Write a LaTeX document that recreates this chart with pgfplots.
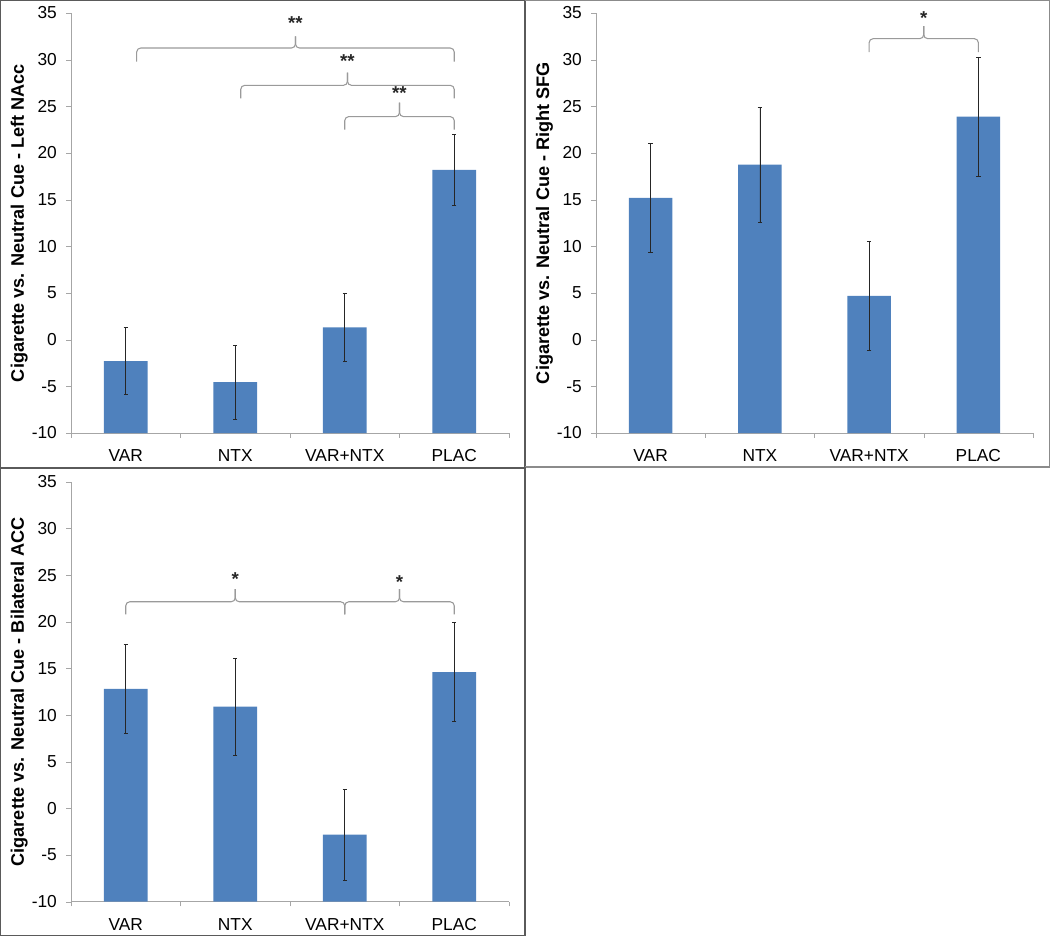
\documentclass[border=0pt]{standalone}
\usepackage{pgfplots}
\pgfplotsset{compat=1.18}
\usepackage{fontspec}
\setmainfont{Liberation Sans}
\definecolor{barblue}{HTML}{4F81BD}
\definecolor{axgray}{HTML}{A6A6A6}
\definecolor{brgray}{HTML}{9A9A9A}
\definecolor{framegray}{HTML}{5A5A5A}

% x1, x2, xm, yend, yline, ytip
\newcommand{\brk}[6]{%
  \draw[brgray, line width=0.8pt, rounded corners=3pt] (axis cs:#1,#4) -- (axis cs:#1,#5) -- (axis cs:#3,#5) -- (axis cs:#3,#6);
  \draw[brgray, line width=0.8pt, rounded corners=3pt] (axis cs:#2,#4) -- (axis cs:#2,#5) -- (axis cs:#3,#5) -- (axis cs:#3,#6);
}
\newcommand{\sig}[3]{\node[inner sep=0pt, text=black!85, font=\bfseries\fontsize{14}{16}\selectfont] at (axis cs:#1,#2) {#3};}

\pgfplotsset{
  myaxis/.style={
    scale only axis, width=328.5pt, height=315pt,
    xmin=-0.5, xmax=3.5, ymin=-10, ymax=35,
    axis lines=left, axis line style={axgray, -},
    y coord trafo/.code={\pgfmathparse{##1+10}},
    y coord inv trafo/.code={\pgfmathparse{##1-10}},
    ytick={-10,-5,...,35},
    xtick={0,1,2,3}, xticklabels={VAR,NTX,VAR+NTX,PLAC},
    xtick style={draw=none},
    ytick style={axgray},
    tick align=outside, major tick length=3.4pt,
    extra x ticks={-0.5,0.5,1.5,2.5,3.5}, extra x tick labels={},
    extra x tick style={xtick style={draw=axgray}},
    tick label style={font=\fontsize{13}{15}\selectfont, black},
    /pgf/number format/assume math mode=true,
    yticklabel style={inner sep=0pt, xshift=-7pt},
    xticklabel style={inner sep=0pt, yshift=-9pt},
    every axis y label/.style={at={(axis description cs:-0.118,0.5)}, rotate=90, anchor=center,
      font=\bfseries\fontsize{13.6}{16}\selectfont},
    clip=false,
    ybar, bar width=0.4,
  },
  mybars/.style={fill=barblue, draw=none,
    error bars/.cd, y dir=both, y explicit,
    error bar style={black!85, line width=0.45pt},
    error mark options={black!85, line width=0.45pt, mark size=1.6pt, rotate=90}},
}

\begin{document}
\begin{tikzpicture}
\useasboundingbox (0,0) rectangle (787.5pt,-702pt);
\draw[framegray, line width=0.8pt] (0.4pt,-0.4pt) rectangle (393.75pt,-351pt);
\draw[framegray!70, line width=0.8pt] (393.75pt,-0.4pt) -- (787.1pt,-0.4pt) -- (787.1pt,-350.25pt) -- (393.75pt,-350.25pt);
\draw[framegray, line width=0.8pt] (0.4pt,-351pt) rectangle (393.75pt,-701.6pt);

% Panel 1
\begin{axis}[myaxis, at={(53.25pt,-324.75pt)}, anchor=south west,
  ylabel={Cigarette vs. Neutral Cue - Left NAcc}]
\addplot[mybars] coordinates {(0,-2.3) +- (0,3.6) (1,-4.55) +- (0,3.95) (2,1.33) +- (0,3.68) (3,18.2) +- (0,3.8)};
\brk{0.1}{3}{1.55}{29.8}{31.25}{32.5}
\brk{1.05}{3}{2.025}{25.85}{27.25}{28.6}
\brk{2.0}{3}{2.5}{22.5}{23.9}{25.4}
\sig{1.55}{33.9}{**}
\sig{2.025}{29.9}{**}
\sig{2.5}{26.4}{**}
\end{axis}

% Panel 2
\begin{axis}[myaxis, at={(447pt,-324.75pt)}, anchor=south west, width=327.75pt,
  ylabel={Cigarette vs. Neutral Cue - Right SFG}]
\addplot[mybars] coordinates {(0,15.2) +- (0,5.8) (1,18.75) +- (0,6.2) (2,4.7) +- (0,5.85) (3,23.9) +- (0,6.4)};
\brk{2}{3}{2.5}{30.8}{32.25}{33.6}
\sig{2.5}{34.5}{*}
\end{axis}

% Panel 3
\begin{axis}[myaxis, at={(53.25pt,-676.3pt)}, anchor=south west,
  ylabel={Cigarette vs. Neutral Cue - Bilateral ACC}]
\addplot[mybars] coordinates {(0,12.8) +- (0,4.8) (1,10.9) +- (0,5.2) (2,-2.8) +- (0,4.85) (3,14.6) +- (0,5.3)};
\brk{0}{2}{1}{20.8}{22.14}{23.5}
\brk{2}{3}{2.5}{20.8}{22.14}{23.5}
\sig{1}{24.6}{*}
\sig{2.5}{24.3}{*}
\end{axis}
\end{tikzpicture}
\end{document}
